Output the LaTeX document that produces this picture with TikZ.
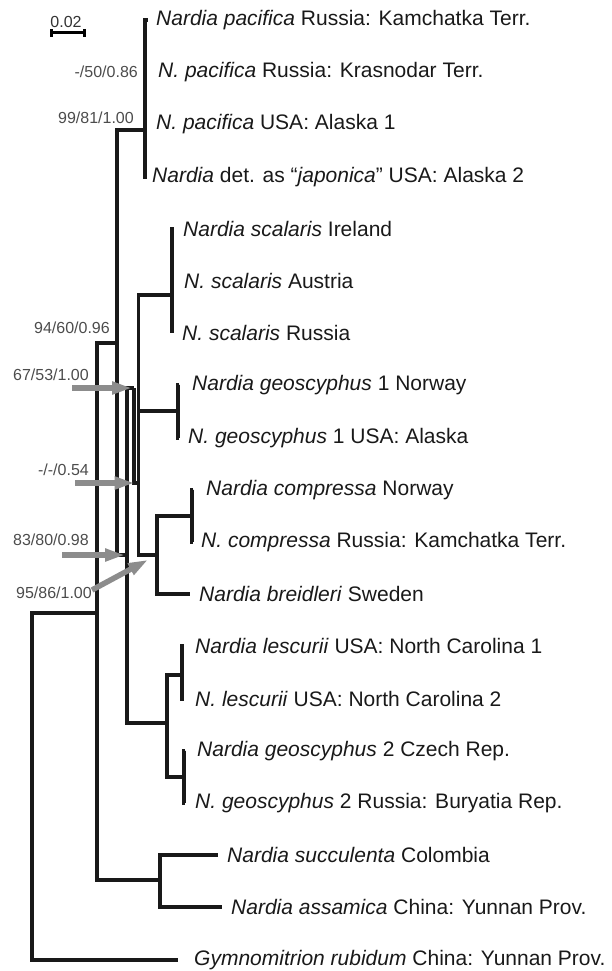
\documentclass[tikz,border=0pt]{standalone}
\usepackage{fontspec}
\setmainfont{Liberation Sans}
\usetikzlibrary{arrows.meta, positioning, calc}

\begin{document}
\begin{tikzpicture}[
    x=1pt, y=-1pt,
    branch/.style={line width=3.6pt, draw=black!90},
    leaf/.style={inner sep=0pt, font=\fontsize{21}{24}\selectfont, text=black!90},
    supp/.style={inner sep=0pt, anchor=east, font=\fontsize{16}{19}\selectfont, text=black!70},
    pointer/.style={-{Triangle[length=20pt, width=12pt]}, line width=5.5pt, draw=black!45}
]
    \useasboundingbox (0,0) rectangle (612,971);

    % internal nodes
    \coordinate (root) at (32,786);
    \coordinate (nA) at (97,613);
    \coordinate (nB) at (117,343);
    \coordinate (nPac) at (145,130);
    \coordinate (nC) at (127,555);
    \coordinate (nD) at (134,388);
    \coordinate (nE) at (138.5,483);
    \coordinate (nSc) at (172,295);
    \coordinate (nG1) at (178,411);
    \coordinate (nCB) at (157,555);
    \coordinate (nCo) at (192,516);
    \coordinate (nLG) at (167,723);
    \coordinate (nLe) at (182,675);
    \coordinate (nG2) at (184,777);
    \coordinate (nSA) at (160,880);

    % tips
    \coordinate (t1) at (148,20);
    \coordinate (t2) at (146,72);
    \coordinate (t3) at (146,124);
    \coordinate (t4) at (143,177);
    \coordinate (t5) at (174,229);
    \coordinate (t6) at (174,281);
    \coordinate (t7) at (172,333);
    \coordinate (t8) at (179,385);
    \coordinate (t9) at (179,438);
    \coordinate (t10) at (193,490);
    \coordinate (t11) at (193,542);
    \coordinate (t12) at (190,594);
    \coordinate (t13) at (184,646);
    \coordinate (t14) at (184,699);
    \coordinate (t15) at (185,751);
    \coordinate (t16) at (185,803);
    \coordinate (t17) at (218,855);
    \coordinate (t18) at (222,907);
    \coordinate (t19) at (178,960);

    \draw[branch] (root) |- (nA) (root) |- (t19);
    \draw[branch] (nA) |- (nB) (nA) |- (nSA);
    \draw[branch] (nSA) |- (t17) (nSA) |- (t18);
    \draw[branch] (nB) |- (nPac) (nB) |- (nC);
    \draw[branch] (nPac) |- (t1) (nPac) |- (t2) (nPac) |- (t3) (nPac) |- (t4);
    \draw[branch] (nC) |- (nD) (nC) |- (nLG);
    \draw[branch] (nD) |- (nE);
    \draw[branch] (nE) |- (nSc) (nE) |- (nG1) (nE) |- (nCB);
    \draw[branch] (nSc) |- (t5) (nSc) |- (t6) (nSc) |- (t7);
    \draw[branch] (nG1) |- (t8) (nG1) |- (t9);
    \draw[branch] (nCB) |- (nCo) (nCB) |- (t12);
    \draw[branch] (nCo) |- (t10) (nCo) |- (t11);
    \draw[branch] (nLG) |- (nLe) (nLG) |- (nG2);
    \draw[branch] (nLe) |- (t13) (nLe) |- (t14);
    \draw[branch] (nG2) |- (t15) (nG2) |- (t16);

    \node[leaf, right=8pt of t1] (l1) {\textit{Nardia pacifica} Russia: Kamchatka Terr.};
    \node[leaf, right=12pt of t2] (l2) {\textit{N. pacifica} Russia: Krasnodar Terr.};
    \node[leaf, right=10pt of t3] (l3) {\textit{N. pacifica} USA: Alaska 1};
    \node[leaf, right=9pt of t4] (l4) {\textit{Nardia} det. as ``\textit{japonica}'' USA: Alaska 2};
    \node[leaf, right=9pt of t5] (l5) {\textit{Nardia scalaris} Ireland};
    \node[leaf, right=10pt of t6] (l6) {\textit{N. scalaris} Austria};
    \node[leaf, right=10pt of t7] (l7) {\textit{N. scalaris} Russia};
    \node[leaf, right=13pt of t8] (l8) {\textit{Nardia geoscyphus} 1 Norway};
    \node[leaf, right=9pt of t9] (l9) {\textit{N. geoscyphus} 1 USA: Alaska};
    \node[leaf, right=13pt of t10] (l10) {\textit{Nardia compressa} Norway};
    \node[leaf, right=8pt of t11] (l11) {\textit{N. compressa} Russia: Kamchatka Terr.};
    \node[leaf, right=9pt of t12] (l12) {\textit{Nardia breidleri} Sweden};
    \node[leaf, right=11pt of t13] (l13) {\textit{Nardia lescurii} USA: North Carolina 1};
    \node[leaf, right=11pt of t14] (l14) {\textit{N. lescurii} USA: North Carolina 2};
    \node[leaf, right=12pt of t15] (l15) {\textit{Nardia geoscyphus} 2 Czech Rep.};
    \node[leaf, right=10pt of t16] (l16) {\textit{N. geoscyphus} 2 Russia: Buryatia Rep.};
    \node[leaf, right=9pt of t17] (l17) {\textit{Nardia succulenta} Colombia};
    \node[leaf, right=9pt of t18] (l18) {\textit{Nardia assamica} China: Yunnan Prov.};
    \node[leaf, right=16pt of t19] (l19) {\textit{Gymnomitrion rubidum} China: Yunnan Prov.};

    % support values
    \node[supp] (s1) at (138,72) {-/50/0.86};
    \node[supp] (s2) at (134,118) {99/81/1.00};
    \node[supp] (s3) at (110,328) {94/60/0.96};
    \node[supp] (s4) at (89,375) {67/53/1.00};
    \node[supp] (s5) at (89,470) {-/-/0.54};
    \node[supp] (s6) at (89,540) {83/80/0.98};
    \node[supp] (s7) at (92,593) {95/86/1.00};

    \coordinate (a1) at (72,388);
    \coordinate (a2) at (75,483);
    \coordinate (a3) at (62,555);
    \coordinate (a4) at (92,590);
    \draw[pointer, shorten >=2pt] (a1) -- (nD);
    \draw[pointer, shorten >=4pt] (a2) -- (nE);
    \draw[pointer, shorten >=2pt] (a3) -- (nC);
    \draw[pointer, shorten >=10pt] (a4) -- (nCB);

    % scale bar
    \coordinate (sb1) at (50,33);
    \coordinate (sb2) at (86,33);
    \draw[line width=3pt, {Bar[width=8pt]}-{Bar[width=8pt]}] (sb1) -- (sb2);
    \node[supp, anchor=south, text=black!80] (sbl) at ($(sb1)!0.5!(sb2)+(-2,-5)$) {0.02};
\end{tikzpicture}
\end{document}
